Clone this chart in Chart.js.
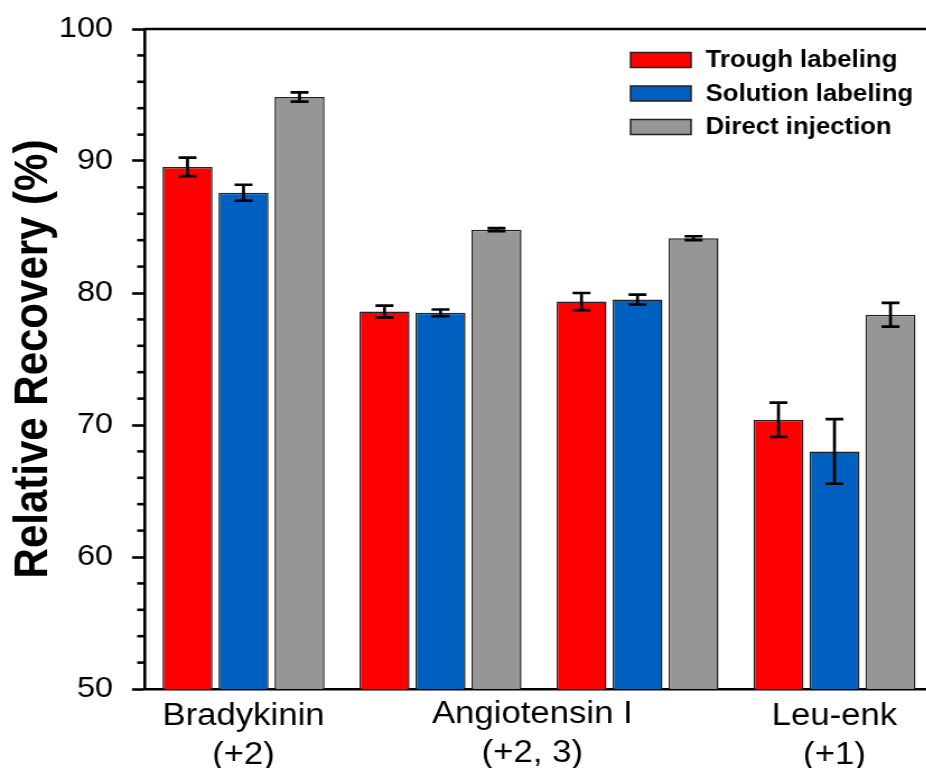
<!DOCTYPE html>
<html>
<head>
<meta charset="utf-8">
<script src="https://cdn.jsdelivr.net/npm/chart.js@4.4.0/dist/chart.umd.min.js"></script>
<style>
  html, body { margin: 0; padding: 0; background: #fff; overflow: hidden; }
  #wrap { width: 840px; height: 768px; transform: scaleX(1.12); transform-origin: 0 0; }
</style>
</head>
<body>
<div id="wrap"><canvas id="chart" width="840" height="768"></canvas></div>
<script>
// peptide groups (Angiotensin I has two charge states sharing one label)
const categories = ["Bradykinin (+2)", "Angiotensin I (+2)", "Angiotensin I (+3)", "Leu-enk (+1)"];
const tickLabels = [["Bradykinin", "(+2)"], "", "", ["Leu-enk", "(+1)"]];
const sharedLabel = ["Angiotensin I", "(+2, 3)"];

const troughValues = [89.55, 78.6, 79.35, 70.4];
const troughErrors = [0.7, 0.45, 0.65, 1.3];
const solutionValues = [87.6, 78.5, 79.5, 68.0];
const solutionErrors = [0.6, 0.25, 0.37, 2.45];
const directValues = [94.85, 84.8, 84.15, 78.35];
const directErrors = [0.35, 0.12, 0.15, 0.9];

const yTicks = [50, 60, 70, 80, 90, 100];

const fontFamily = '"Liberation Sans", Arial, Helvetica, sans-serif';
const lineW = 2.6;

const errorBarPlugin = {
  id: "errorBars",
  afterDatasetsDraw(chart) {
    const ctx = chart.ctx;
    const y = chart.scales.y;
    ctx.save();
    ctx.strokeStyle = "#000";
    ctx.lineWidth = 2.7;
    chart.data.datasets.forEach((ds, i) => {
      const meta = chart.getDatasetMeta(i);
      meta.data.forEach((bar, j) => {
        const v = ds.data[j], e = ds.errors[j];
        const top = y.getPixelForValue(v + e);
        const bot = y.getPixelForValue(v - e);
        const half = 8;
        ctx.beginPath();
        ctx.moveTo(bar.x, top); ctx.lineTo(bar.x, bot);
        ctx.moveTo(bar.x - half, top); ctx.lineTo(bar.x + half, top);
        ctx.moveTo(bar.x - half, bot); ctx.lineTo(bar.x + half, bot);
        ctx.stroke();
      });
    });
    ctx.restore();
  }
};

const framePlugin = {
  id: "frame",
  afterDraw(chart) {
    const ctx = chart.ctx;
    const a = chart.chartArea;
    const y = chart.scales.y;
    const x = chart.scales.x;
    ctx.save();
    ctx.strokeStyle = "#000";
    ctx.lineWidth = lineW;
    // top and right frame
    ctx.beginPath();
    ctx.moveTo(a.left, a.top); ctx.lineTo(a.right, a.top); ctx.lineTo(a.right, a.bottom);
    ctx.stroke();
    // minor ticks
    y.ticks.forEach(t => {
      if (yTicks.includes(t.value)) return;
      const py = y.getPixelForValue(t.value);
      ctx.beginPath();
      ctx.moveTo(a.left - 7, py); ctx.lineTo(a.left, py);
      ctx.stroke();
    });
    // shared label for the two Angiotensin I groups
    const cx = (x.getPixelForValue(1) + x.getPixelForValue(2)) / 2 - 6;
    ctx.fillStyle = "#000";
    ctx.font = "31px " + fontFamily;
    ctx.textAlign = "center";
    ctx.textBaseline = "alphabetic";
    ctx.fillText(sharedLabel[0], cx, a.bottom + 34);
    ctx.fillText(sharedLabel[1], cx, a.bottom + 73);
    // legend
    const bx = a.right - 270;
    chart.data.datasets.forEach((ds, i) => {
      const cy = a.top + 31 + i * 33.5;
      ctx.fillStyle = ds.backgroundColor;
      ctx.fillRect(bx, cy - 7.5, 54, 15);
      ctx.lineWidth = 1.5;
      ctx.strokeStyle = "#222";
      ctx.strokeRect(bx, cy - 7.5, 54, 15);
      ctx.fillStyle = "#000";
      ctx.font = "bold 23px " + fontFamily;
      ctx.textAlign = "left";
      ctx.textBaseline = "middle";
      ctx.fillText(ds.label, bx + 67, cy + 1);
    });
    ctx.restore();
  }
};

const barStyle = { borderColor: "#222", borderWidth: 1.5, categoryPercentage: 0.853, barPercentage: 0.893 };

new Chart(document.getElementById("chart"), {
  type: "bar",
  data: {
    labels: categories,
    datasets: [
      { label: "Trough labeling", data: troughValues, errors: troughErrors, backgroundColor: "#ff0000", ...barStyle },
      { label: "Solution labeling", data: solutionValues, errors: solutionErrors, backgroundColor: "#0060c0", ...barStyle },
      { label: "Direct injection", data: directValues, errors: directErrors, backgroundColor: "#969696", ...barStyle }
    ]
  },
  options: {
    responsive: false,
    animation: false,
    layout: { padding: { top: 29, right: 7, left: 0, bottom: 0 } },
    plugins: { legend: { display: false }, tooltip: { enabled: false } },
    scales: {
      x: {
        grid: { display: false },
        border: { display: true, color: "#000", width: lineW },
        ticks: {
          color: "#000",
          font: { family: fontFamily, size: 31, lineHeight: 1.25 },
          maxRotation: 0,
          autoSkip: false,
          padding: 0,
          callback: (v, i) => tickLabels[i]
        },
        afterFit: s => { s.height = 79; }
      },
      y: {
        min: 50,
        max: 100,
        grid: {
          drawOnChartArea: false,
          tickLength: 11.6,
          tickWidth: lineW,
          tickColor: c => yTicks.includes(c.tick.value) ? "#000" : "rgba(0,0,0,0)"
        },
        border: { display: true, color: "#000", width: lineW },
        ticks: {
          stepSize: 2,
          autoSkip: false,
          color: "#000",
          padding: 17,
          font: { family: fontFamily, size: 29, lineHeight: 0.4 },
          callback: v => yTicks.includes(v) ? String(v) : ""
        },
        title: {
          display: true,
          text: "Relative Recovery (%)",
          color: "#000",
          font: { family: fontFamily, size: 42, weight: "bold" },
          padding: { top: 5, bottom: 0 }
        },
        afterFit: s => { s.width = 129.5; }
      }
    }
  },
  plugins: [errorBarPlugin, framePlugin]
});
</script>
</body>
</html>
